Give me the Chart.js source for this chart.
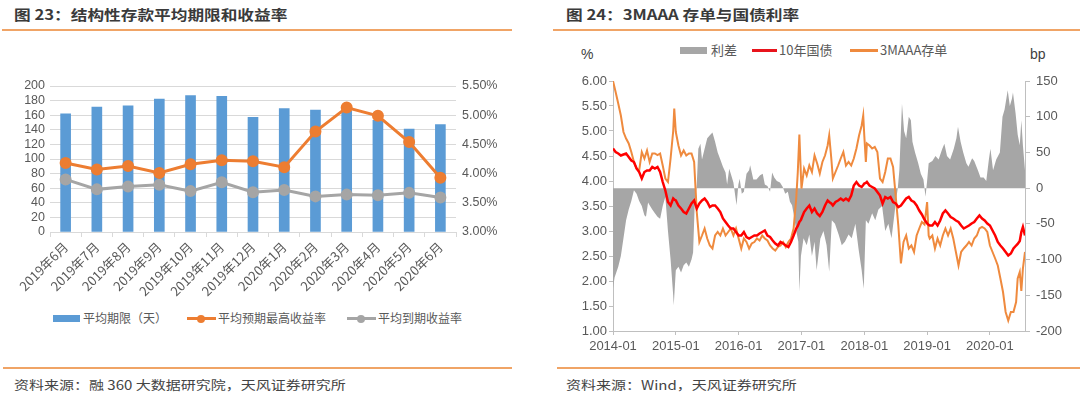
<!DOCTYPE html>
<html>
<head>
<meta charset="utf-8">
<script src="https://cdn.jsdelivr.net/npm/chart.js@4.4.0/dist/chart.umd.min.js"></script>
<style>
  html,body{margin:0;padding:0;background:#fff;}
  body{width:1080px;height:395px;position:relative;overflow:hidden;font-family:"Noto Sans CJK SC","Noto Sans",sans-serif;}
  .title{position:absolute;top:4px;font-size:14px;font-weight:700;color:#3a3a3a;white-space:nowrap;transform:scaleX(1.19);transform-origin:left top;}
  .rule{position:absolute;height:1.5px;background:#f0a466;}
  .src{position:absolute;top:375px;font-size:12.5px;color:#444;white-space:nowrap;transform:scaleX(1.2);transform-origin:left top;}
  .lg{position:absolute;font-size:12px;color:#595959;white-space:nowrap;line-height:14px;}
  .sw{position:absolute;}
  .dot{position:absolute;width:8px;height:8px;border-radius:50%;}
  .unit{position:absolute;font-size:14px;color:#404040;font-family:"Liberation Sans",sans-serif;}
  canvas{position:absolute;}
</style>
</head>
<body>
<div class="title" style="left:14px;">图 23：结构性存款平均期限和收益率</div>
<div class="rule" style="left:2px;top:29px;width:510px;"></div>
<div class="title" style="left:566px;">图 24：3MAAA 存单与国债利率</div>
<div class="rule" style="left:553px;top:29px;width:527px;"></div>

<div class="rule" style="left:3px;top:367px;width:509px;"></div>
<div class="rule" style="left:557px;top:367px;width:523px;"></div>
<div class="src" style="left:14px;">资料来源：融 360 大数据研究院，天风证券研究所</div>
<div class="src" style="left:566px;">资料来源：Wind，天风证券研究所</div>

<!-- left legend -->
<div class="sw" style="left:53px;top:315px;width:27px;height:7px;background:#5b9bd5;"></div>
<div class="lg" style="left:83px;top:311px;">平均期限（天）</div>
<div class="sw" style="left:187px;top:317px;width:29px;height:3px;background:#ed7d31;"></div>
<div class="dot" style="left:197px;top:314.5px;background:#ed7d31;"></div>
<div class="lg" style="left:218px;top:311px;">平均预期最高收益率</div>
<div class="sw" style="left:347px;top:317px;width:29px;height:3px;background:#a5a5a5;"></div>
<div class="dot" style="left:357px;top:314.5px;background:#a5a5a5;"></div>
<div class="lg" style="left:378px;top:311px;">平均到期收益率</div>

<!-- right legend -->
<div class="sw" style="left:680px;top:47px;width:27px;height:7px;background:#a6a6a6;"></div>
<div class="lg" style="left:711px;top:43px;font-size:13px;">利差</div>
<div class="sw" style="left:752px;top:49px;width:25px;height:2.5px;background:#e8141c;"></div>
<div class="lg" style="left:779px;top:43px;font-size:13px;">10年国债</div>
<div class="sw" style="left:850px;top:49px;width:28px;height:2.5px;background:#ef8a3e;"></div>
<div class="lg" style="left:880px;top:43px;font-size:13px;">3MAAA存单</div>
<div class="unit" style="left:581px;top:46px;">%</div>
<div class="unit" style="left:1030px;top:46px;">bp</div>

<canvas id="c1" width="512" height="240" style="left:0;top:70px;width:512px;height:240px;"></canvas>
<canvas id="c2" width="527" height="294" style="left:553px;top:66px;width:527px;height:294px;"></canvas>

<script>
// ---------- Figure 23 data ----------
const leftCats = ['2019年6月','2019年7月','2019年8月','2019年9月','2019年10月','2019年11月','2019年12月','2020年1月','2020年2月','2020年3月','2020年4月','2020年5月','2020年6月'];
const avgTermDays = [162,171,173,182,187,186,157,169,167,166,153,141,147];
const avgMaxExpectedYield = [4.18,4.07,4.13,4.01,4.16,4.23,4.21,4.11,4.72,5.13,4.99,4.54,3.93];
const avgMaturityYield = [3.90,3.73,3.78,3.81,3.70,3.85,3.68,3.72,3.61,3.64,3.63,3.67,3.59];

// ---------- Figure 24 data (x = months since 2014-01) ----------
const months = [0,0.5,1,1.5,2,2.5,3,3.5,4,4.5,5,5.5,6,6.5,7,7.5,8,8.5,9,9.5,10,10.5,11,11.5,11.7,12,12.5,13,13.5,14,14.5,15,15.5,16,16.5,17,17.5,18,18.5,19,19.5,20,20.5,21,21.5,22,22.5,23,23.5,24,24.5,25,25.5,26,26.5,27,27.5,28,28.5,29,29.5,30,30.5,31,31.5,32,32.5,33,33.5,34,34.5,35,35.3,35.6,35.9,36,36.5,37,37.5,38,38.5,39,39.5,40,40.5,41,41.3,41.7,42,42.5,43,43.5,44,44.5,45,45.5,46,46.5,47,47.5,47.8,48,48.3,48.5,49,49.5,50,50.5,51,51.5,52,52.5,53,53.5,54,54.5,55,55.5,56,56.5,57,57.5,58,58.5,59,59.5,60,60.3,60.5,61,61.5,62,62.5,63,63.5,64,64.5,65,65.5,66,66.5,67,67.5,68,68.5,69,69.5,70,70.5,71,71.5,72,72.5,73,73.5,74,74.5,75,75.5,76,76.5,77,77.3,77.7,78,78.3,78.7];
const cd3mAAA = [6.00,5.78,5.55,5.31,4.98,4.85,4.75,4.58,4.38,4.25,4.21,4.58,4.45,4.61,4.38,4.55,4.55,4.52,4.55,4.31,4.05,3.98,4.45,5.00,5.45,4.98,4.71,4.51,4.61,4.51,4.55,4.55,4.38,3.38,2.78,2.91,3.05,2.85,2.71,2.65,2.91,2.98,2.91,3.05,2.91,2.98,3.05,2.91,3.05,2.85,2.65,2.85,2.78,2.65,2.75,2.78,2.85,2.81,2.91,2.85,2.81,2.71,2.65,2.61,2.68,2.71,2.78,2.68,2.78,2.85,3.05,3.65,4.18,4.93,4.10,3.85,4.25,4.11,4.31,4.18,4.51,4.35,4.15,4.38,4.51,4.71,4.91,4.45,4.05,4.18,4.31,4.45,4.58,4.31,4.38,4.31,4.45,4.65,4.91,5.11,5.31,4.91,4.38,4.75,4.71,4.65,4.68,4.58,4.05,3.98,4.18,4.45,4.45,4.28,3.70,3.11,2.35,2.78,2.91,2.65,2.71,2.58,2.91,3.05,3.18,3.13,3.58,2.91,2.85,2.91,2.65,2.85,2.71,2.91,3.05,2.91,3.05,2.85,2.58,2.31,2.58,2.65,2.71,2.78,2.71,2.85,2.91,3.05,3.08,3.05,2.98,2.71,2.58,2.45,2.31,2.05,1.78,1.38,1.21,1.38,1.38,1.58,2.05,2.18,1.80,2.25,2.58];
const cgb10y = [4.65,4.58,4.55,4.51,4.53,4.55,4.48,4.41,4.38,4.25,4.18,4.05,4.18,4.21,4.21,4.28,4.25,4.28,4.18,3.98,3.81,3.58,3.51,3.65,3.63,3.61,3.51,3.45,3.38,3.35,3.45,3.55,3.61,3.45,3.55,3.61,3.65,3.58,3.48,3.51,3.51,3.45,3.38,3.25,3.18,3.11,3.05,3.05,2.98,2.91,2.91,2.98,2.88,2.85,2.88,2.91,2.91,2.95,2.98,3.01,2.91,2.88,2.81,2.75,2.71,2.78,2.75,2.71,2.68,2.78,2.91,3.05,3.10,3.18,3.22,3.25,3.38,3.45,3.51,3.38,3.45,3.35,3.30,3.38,3.51,3.61,3.58,3.55,3.51,3.58,3.61,3.65,3.61,3.65,3.61,3.71,3.91,3.98,3.91,3.88,3.92,3.95,3.96,3.98,3.91,3.88,3.85,3.78,3.71,3.55,3.68,3.65,3.68,3.58,3.55,3.48,3.51,3.58,3.65,3.68,3.61,3.58,3.51,3.41,3.33,3.23,3.15,3.12,3.11,3.11,3.18,3.11,3.21,3.35,3.41,3.35,3.28,3.25,3.21,3.18,3.11,3.05,3.08,3.11,3.15,3.18,3.25,3.31,3.25,3.21,3.15,3.11,3.01,2.91,2.78,2.71,2.65,2.58,2.51,2.55,2.65,2.71,2.74,2.80,2.98,3.08,2.91];
const spreadMonths = [0,0.3,1,1.5,2,2.5,3,3.5,4,4.5,5,5.5,6,6.3,6.7,7,7.5,8,8.5,9,9.5,10,10.5,11,11.5,11.6,12,12.5,13,13.5,14,14.5,15,15.3,15.6,16,16.3,16.7,17,17.5,18,18.5,19,19.5,20,20.5,21,21.5,21.8,22.2,22.5,23,23.6,23.95,24.2,24.6,25,25.5,26,26.2,26.8,27.4,28.1,28.6,29,29.5,30,30.4,30.8,31.3,31.9,32.4,32.9,33.4,33.8,34.2,34.6,35,35.4,35.6,35.9,36.4,37,37.5,38,38.5,38.9,39.6,40.2,40.8,41.3,41.8,42.4,43.1,43.7,44.3,45,45.6,46.3,46.9,47.5,47.9,48.3,48.8,49.5,50.1,50.7,51.4,52,52.6,53.2,53.7,54.1,54.4,54.7,55.2,55.6,56,56.5,56.9,57.2,57.7,58.3,58.8,59.3,59.7,60,60.3,61,61.6,62.2,62.9,63.3,63.8,64.4,65.1,65.6,65.9,66.4,66.9,67.5,67.9,68.6,69,69.7,70.2,70.8,71.3,71.8,72.1,72.6,73.2,73.9,74.4,74.8,75.4,75.8,76.2,76.4,76.9,77.3,77.7,78,78.3,78.7];
const spreadBp = [-140,-125,-110,-95,-70,-45,-30,-18,-3,-8,-18,-25,-38,-40,-20,-24,-30,-35,-40,-43,-25,-12,-60,-100,-150,-164,-115,-110,-118,-108,-104,-110,-100,-90,-25,5,55,62,40,55,70,74,78,65,50,40,30,22,5,27,20,8,-24,5,13,-8,-5,20,25,32,12,12,18,20,5,3,-5,22,15,10,8,2,-8,-5,-19,-24,-40,-60,-75,-145,-95,-70,-80,-65,-95,-75,-115,-71,-60,-80,-117,-45,-50,-65,-80,-75,-65,-70,-50,-85,-115,-141,-45,-50,-35,-45,-30,-25,-60,-50,-70,-40,-15,0,25,118,80,70,100,95,65,50,35,20,12,-12,10,35,38,45,40,55,62,45,40,55,70,86,65,50,35,30,42,38,25,15,15,10,40,55,25,40,50,100,110,137,115,125,134,105,75,60,95,60,25];
const yearTickMonths = [0,12,24,36,48,60,72];
const yearTickLabels = ['2014-01','2015-01','2016-01','2017-01','2018-01','2019-01','2020-01'];

const tickFontL = {family:'"Liberation Sans", sans-serif', size:12.5};
const tickFont = {family:'"Liberation Sans", sans-serif', size:13};
const cjkFont = {family:'"Noto Sans CJK SC", sans-serif', size:13};
const tickColor = '#595959';

new Chart(document.getElementById('c1'), {
  type: 'bar',
  data: {
    labels: leftCats,
    datasets: [
      {type:'line', label:'平均预期最高收益率', data:avgMaxExpectedYield, yAxisID:'y1',
       borderColor:'#ed7d31', backgroundColor:'#ed7d31', borderWidth:3, pointRadius:4.5,
       pointBackgroundColor:'#ed7d31', pointBorderColor:'#ed7d31', tension:0, order:1},
      {type:'line', label:'平均到期收益率', data:avgMaturityYield, yAxisID:'y1',
       borderColor:'#a5a5a5', backgroundColor:'#a5a5a5', borderWidth:3, pointRadius:4.5,
       pointBackgroundColor:'#a5a5a5', pointBorderColor:'#a5a5a5', tension:0, order:2},
      {type:'bar', label:'平均期限（天）', data:avgTermDays, yAxisID:'y',
       backgroundColor:'#5b9bd5', barThickness:10, order:3}
    ]
  },
  options: {
    responsive:false, animation:false, devicePixelRatio:1,
    layout:{padding:{top:16,bottom:0,left:0,right:0}},
    plugins:{legend:{display:false}, tooltip:{enabled:false}},
    scales:{
      x:{
        grid:{offset:true, drawOnChartArea:false, drawTicks:true, tickLength:5, color:'#d9d9d9'},
        border:{color:'#d9d9d9'},
        ticks:{minRotation:45, maxRotation:45, font:cjkFont, color:tickColor, padding:2, autoSkip:false},
        afterFit(s){ s.height = 78; }
      },
      y:{
        position:'left', min:0, max:200,
        ticks:{stepSize:20, font:tickFontL, color:tickColor, padding:5, autoSkip:false},
        grid:{color:'#d9d9d9', drawTicks:false},
        border:{display:false},
        afterFit(s){ s.width = 50; }
      },
      y1:{
        position:'right', min:3, max:5.5,
        ticks:{stepSize:0.5, font:tickFontL, color:tickColor, padding:6, autoSkip:false, callback:v=>v.toFixed(2)+'%'},
        grid:{display:false, drawTicks:false},
        border:{display:false},
        afterFit(s){ s.width = 56; }
      }
    }
  }
});

new Chart(document.getElementById('c2'), {
  type: 'line',
  data: {
    datasets: [
      {label:'10年国债', data:months.map((m,i)=>({x:m, y:cgb10y[i]})), yAxisID:'y',
       borderColor:'#ff0000', borderWidth:2.5, pointRadius:0, tension:0, fill:false, order:1},
      {label:'3MAAA存单', data:months.map((m,i)=>({x:m, y:cd3mAAA[i]})), yAxisID:'y',
       borderColor:'#ef8a3e', borderWidth:2, pointRadius:0, tension:0, fill:false, order:2},
      {label:'利差', data:spreadMonths.map((m,i)=>({x:m, y:spreadBp[i]})), yAxisID:'y2',
       borderWidth:0, borderColor:'rgba(0,0,0,0)', backgroundColor:'#a6a6a6', pointRadius:0, tension:0,
       fill:{value:0}, order:3}
    ]
  },
  options: {
    responsive:false, animation:false, devicePixelRatio:1,
    layout:{padding:{top:15,bottom:0,left:0,right:0}},
    plugins:{legend:{display:false}, tooltip:{enabled:false}},
    scales:{
      x:{
        type:'linear', min:0, max:78.7,
        afterBuildTicks(s){ s.ticks = yearTickMonths.map(v=>({value:v})); },
        ticks:{font:tickFont, color:tickColor, padding:4, maxRotation:0, autoSkip:false,
               callback:(v,i)=>yearTickLabels[i]},
        grid:{drawOnChartArea:false, drawTicks:true, tickLength:4, color:'#bfbfbf'},
        border:{color:'#bfbfbf'},
        afterFit(s){ s.height = 29; }
      },
      y:{
        position:'left', min:1, max:6,
        ticks:{stepSize:0.5, font:tickFont, color:tickColor, padding:2, autoSkip:false, callback:v=>v.toFixed(2)},
        grid:{drawOnChartArea:false, drawTicks:true, tickLength:4, color:'#bfbfbf'},
        border:{color:'#bfbfbf'},
        afterFit(s){ s.width = 60; }
      },
      y2:{
        position:'right', min:-200, max:150,
        ticks:{stepSize:50, font:tickFont, color:tickColor, padding:6, autoSkip:false},
        grid:{drawOnChartArea:false, drawTicks:true, tickLength:5, color:'#bfbfbf'},
        border:{color:'#bfbfbf'},
        afterFit(s){ s.width = 55; }
      }
    }
  }
});
</script>
</body>
</html>
